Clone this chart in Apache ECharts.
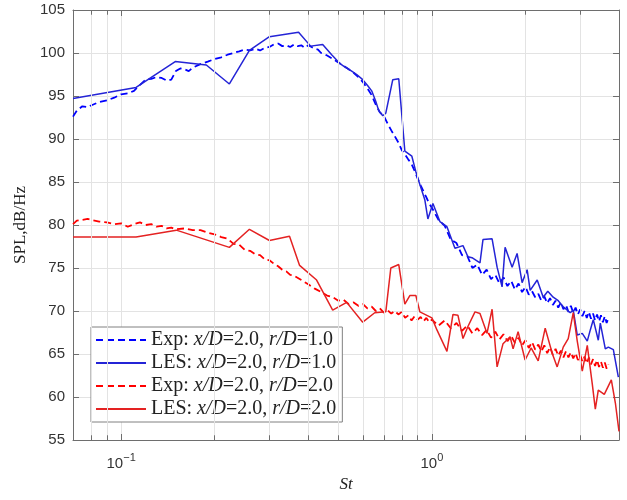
<!DOCTYPE html>
<html>
<head>
<meta charset="utf-8">
<script src="https://cdn.jsdelivr.net/npm/echarts@6/dist/echarts.min.js"></script>
<style>
html,body{margin:0;padding:0;background:#fff;}
#c{width:627px;height:500px;}
</style>
</head>
<body>
<div id="c"></div>
<script>
// ---- data (St, SPL dB/Hz) ----
const seriesNames = [
  'Exp: x/D=2.0, r/D=1.0',
  'LES: x/D=2.0, r/D=1.0',
  'Exp: x/D=2.0, r/D=2.0',
  'LES: x/D=2.0, r/D=2.0'
];

const blueExpSt = [0.070,0.072,0.075,0.078,0.080,0.085,0.090,0.095,0.100,0.105,0.110,0.115,0.120,0.125,0.130,0.135,0.140,0.145,0.150,0.155,0.160,0.165,0.170,0.180,0.190,0.200,0.210,0.220,0.230,0.240,0.250,0.260,0.270,0.280,0.290,0.300,0.310,0.320,0.330,0.340,0.350,0.360,0.370,0.380,0.390,0.400,0.410,0.420,0.430,0.440,0.450,0.460,0.470,0.480,0.490,0.500,0.520,0.540,0.560,0.580,0.600,0.620,0.640,0.660,0.680,0.700,0.720,0.740,0.760,0.780,0.800,0.820,0.840,0.860,0.880,0.900,0.920,0.940,0.960,0.980,1.00,1.05,1.10,1.15,1.20,1.25,1.30,1.35,1.40,1.45,1.50,1.55,1.60,1.65,1.70,1.75,1.80,1.85,1.90,1.95,2.00,2.05,2.10,2.15,2.20,2.25,2.30,2.35,2.40,2.45,2.50,2.55,2.60,2.65,2.70,2.75,2.80,2.85,2.90,2.95,3.00,3.05,3.10,3.15,3.20,3.25,3.30,3.35,3.40,3.45,3.50,3.55,3.60,3.65,3.70];
const blueExpSpl = [92.6,93.3,93.8,93.7,93.9,94.3,94.5,94.8,95.2,95.3,95.6,96.3,96.9,97.0,97.2,97.1,96.8,96.9,97.9,98.2,98.1,97.9,98.3,98.7,99.0,99.3,99.5,99.8,100.0,100.2,100.4,100.3,100.5,100.3,100.6,100.7,101.0,101.1,100.8,100.9,100.7,101.0,100.8,100.9,100.6,100.9,100.7,100.5,100.4,100.0,99.9,99.7,99.5,99.3,99.1,98.9,98.5,98.1,97.7,97.2,96.6,95.9,95.1,94.0,93.1,92.7,91.8,91.0,90.3,89.6,88.7,88.2,87.6,87.1,86.3,85.4,84.6,83.9,83.2,82.5,82.0,80.6,79.9,78.3,77.9,76.5,76.4,75.0,75.4,74.2,74.8,73.7,74.2,73.2,73.9,72.9,73.5,72.5,73.2,72.2,72.8,71.9,72.3,71.6,72.0,71.2,71.7,70.9,71.5,70.7,71.2,70.4,71.0,70.2,70.7,69.9,70.6,69.8,70.4,69.6,70.2,69.4,70.0,69.2,69.9,69.1,69.7,68.9,69.6,68.8,69.5,68.7,69.4,68.6,69.2];

const blueLesSt = [0.0700,0.1117,0.1493,0.1880,0.2230,0.2587,0.3001,0.3724,0.4071,0.4452,0.4758,0.5049,0.5239,0.5518,0.5728,0.5990,0.6217,0.6401,0.6595,0.6745,0.6949,0.7106,0.7483,0.7823,0.8183,0.8619,0.8879,0.9147,0.9493,0.9707,1.0075,1.061,1.118,1.186,1.259,1.306,1.346,1.428,1.460,1.562,1.621,1.682,1.720,1.812,1.880,1.951,2.025,2.071,2.182,2.281,2.360,2.456,2.550,2.646,2.787,2.850,2.936,3.047,3.162,3.234,3.306,3.431,3.483,3.614,3.696,3.836,3.981];
const blueLesSpl = [94.7,96.0,99.0,98.6,96.4,100.3,101.9,102.4,100.8,101.0,99.8,98.8,98.4,97.9,97.5,96.9,96.2,95.6,94.4,93.3,92.7,93.0,96.9,97.0,88.6,88.0,86.2,84.7,82.9,80.7,82.5,80.4,79.8,77.3,77.6,76.3,76.2,75.6,78.3,78.4,75.1,72.8,77.4,75.1,76.7,73.3,74.8,72.4,73.6,71.6,72.3,71.6,71.2,70.5,69.8,70.1,67.2,67.4,66.5,67.8,69.0,66.6,68.6,65.6,65.8,65.5,62.3];

const redExpSt = [0.070,0.072,0.075,0.078,0.080,0.085,0.090,0.095,0.100,0.105,0.110,0.115,0.120,0.125,0.130,0.135,0.140,0.145,0.150,0.160,0.170,0.180,0.190,0.200,0.210,0.220,0.230,0.240,0.250,0.260,0.270,0.280,0.290,0.300,0.310,0.320,0.330,0.340,0.350,0.360,0.380,0.400,0.420,0.440,0.460,0.480,0.500,0.520,0.540,0.560,0.580,0.600,0.620,0.640,0.660,0.680,0.700,0.720,0.740,0.760,0.780,0.800,0.820,0.840,0.860,0.880,0.900,0.920,0.940,0.960,0.980,1.00,1.05,1.10,1.15,1.20,1.25,1.30,1.35,1.40,1.45,1.50,1.55,1.60,1.65,1.70,1.75,1.80,1.85,1.90,1.95,2.00,2.05,2.10,2.15,2.20,2.25,2.30,2.35,2.40,2.45,2.50,2.55,2.60,2.65,2.70,2.75,2.80,2.85,2.90,2.95,3.00,3.05,3.10,3.15,3.20,3.25,3.30,3.35,3.40,3.45,3.50,3.55,3.60,3.65,3.70];
const redExpSpl = [80.1,80.5,80.6,80.7,80.6,80.4,80.3,80.1,80.2,79.8,80.1,80.3,80.0,80.1,79.8,79.9,79.6,79.7,79.5,79.6,79.4,79.4,79.1,78.9,78.6,78.4,77.8,77.7,77.1,77.0,76.6,76.5,76.0,75.9,75.5,75.2,74.8,74.6,74.2,74.1,73.6,73.1,72.6,72.2,71.8,71.6,71.2,71.3,70.8,71.0,70.6,70.8,70.3,70.5,70.0,70.3,69.8,70.1,69.7,70.0,69.6,69.9,69.2,69.5,68.9,69.4,69.0,69.3,68.8,69.2,68.7,69.0,68.3,68.9,68.0,68.6,67.7,68.3,67.4,68.0,67.2,67.8,66.9,67.6,66.7,67.3,66.5,67.1,66.3,66.9,66.0,66.6,65.7,66.4,65.5,66.1,65.3,66.0,65.1,65.8,64.9,65.6,64.8,65.4,64.6,65.3,64.6,65.2,64.5,65.1,64.3,64.9,64.1,64.7,63.9,64.6,63.8,64.4,63.6,64.3,63.5,64.1,63.4,64.0,63.3,63.8];

const redLesSt = [0.0700,0.1117,0.1505,0.2230,0.2587,0.3001,0.3482,0.3752,0.4256,0.4794,0.5318,0.5990,0.6547,0.7106,0.7375,0.7823,0.8183,0.8492,0.8879,0.9147,1.000,1.038,1.118,1.169,1.213,1.259,1.306,1.376,1.428,1.504,1.562,1.621,1.694,1.785,1.825,1.894,1.995,2.086,2.198,2.315,2.438,2.530,2.646,2.746,2.850,2.936,3.047,3.162,3.282,3.356,3.431,3.587,3.779,3.894,4.000];
const redLesSpl = [78.6,78.6,79.4,77.4,79.5,78.2,78.7,75.3,73.6,70.1,71.0,68.7,69.8,69.9,75.0,75.4,70.8,71.8,71.8,69.9,69.2,67.8,65.3,69.6,69.5,66.8,68.2,69.9,69.7,67.4,70.2,63.5,66.2,67.0,65.6,67.6,64.3,65.7,64.2,68.0,65.1,63.5,65.8,66.8,69.8,66.5,63.0,66.0,61.5,58.6,60.8,60.3,62.0,59.3,56.0];

// axis tick values
const yTicks = [55, 60, 65, 70, 75, 80, 85, 90, 95, 100, 105];
const xMinorTicks = [0.08, 0.09, 0.2, 0.3, 0.4, 0.5, 0.6, 0.7, 0.8, 0.9, 2, 3];

function zip(a, b) { return a.map((v, i) => [v, b[i]]); }

const BLUE_EXP = '#0000ff';
const BLUE_LES = '#2424d6';
const RED_EXP = '#ff0000';
const RED_LES = '#e42222';
const gridColor = '#e3e3e3';
const axisColor = '#6e6e6e';

const gridLineData = xMinorTicks.map(v => ({ xAxis: v }));
const tickData = [];
xMinorTicks.forEach(v => {
  tickData.push([{ coord: [v, 55] }, { coord: [v, 55.55] }]);
  tickData.push([{ coord: [v, 105] }, { coord: [v, 104.45] }]);
});

const chart = echarts.init(document.getElementById('c'), null, { renderer: 'canvas' });

function legendFmt(name) {
  const m = name.match(/^(\w+): x\/D=([\d.]+), r\/D=([\d.]+)$/);
  return m[1] + ': {i|x/D}=' + m[2] + ', {i|r/D}=' + m[3];
}

function xLabel(v) {
  const e = Math.log10(v);
  if (Math.abs(e + 1) < 0.01) return '{b|10}{s|\u22121}';
  if (Math.abs(e) < 0.01) return '{b|10}{s|0}';
  return '';
}

const labelRich = {
  b: { fontFamily: 'Liberation Sans, Arial, sans-serif', fontSize: 15, color: '#333' },
  s: { fontFamily: 'Liberation Sans, Arial, sans-serif', fontSize: 11, color: '#333', padding: [0, 0, 13, 0] }
};

const option = {
  backgroundColor: '#fff',
  animation: false,
  grid: { left: 73, top: 10, right: 8, bottom: 60, containLabel: false },
  xAxis: [
    {
      type: 'log', logBase: 10, min: 0.07, max: 4, position: 'bottom',
      name: 'St', nameLocation: 'middle', nameGap: 36,
      nameTextStyle: { fontFamily: 'Liberation Serif, Times New Roman, serif', fontStyle: 'italic', fontSize: 17, color: '#222' },
      axisLine: { show: true, lineStyle: { color: axisColor, width: 1 } },
      axisTick: { show: true, inside: true, length: 6, lineStyle: { color: axisColor } },
      axisLabel: { show: true, margin: 12, formatter: xLabel, rich: labelRich, showMinLabel: false, showMaxLabel: false },
      splitLine: { show: true, lineStyle: { color: gridColor, width: 1 } },
      minorTick: { show: false }
    },
    {
      type: 'log', logBase: 10, min: 0.07, max: 4, position: 'top',
      axisLine: { show: true, lineStyle: { color: axisColor, width: 1 } },
      axisTick: { show: true, inside: true, length: 6, lineStyle: { color: axisColor } },
      axisLabel: { show: false },
      splitLine: { show: false }
    }
  ],
  yAxis: [
    {
      type: 'value', min: 55, max: 105, interval: 5, position: 'left',
      name: 'SPL,dB/Hz', nameLocation: 'middle', nameGap: 42, nameRotate: 90,
      nameTextStyle: { fontFamily: 'Liberation Serif, Times New Roman, serif', fontSize: 17, color: '#222' },
      axisLine: { show: true, lineStyle: { color: axisColor, width: 1 } },
      axisTick: { show: true, inside: true, length: 6, lineStyle: { color: axisColor } },
      axisLabel: { margin: 8, fontFamily: 'Liberation Sans, Arial, sans-serif', fontSize: 15, color: '#333',
        formatter: v => (yTicks.indexOf(v) >= 0 ? String(v) : '') },
      splitLine: { show: true, lineStyle: { color: gridColor, width: 1 } }
    },
    {
      type: 'value', min: 55, max: 105, interval: 5, position: 'right',
      axisLine: { show: true, lineStyle: { color: axisColor, width: 1 } },
      axisTick: { show: true, inside: true, length: 6, lineStyle: { color: axisColor } },
      axisLabel: { show: false },
      splitLine: { show: false }
    }
  ],
  legend: {
    orient: 'vertical', left: 91, top: 327,
    data: seriesNames,
    itemWidth: 50, itemHeight: 14, itemGap: 3,
    padding: [3, 6, 3, 4],
    backgroundColor: '#fff', borderColor: '#808080', borderWidth: 1, borderRadius: 0,
    itemStyle: { opacity: 0 },
    formatter: legendFmt,
    textStyle: {
      fontFamily: 'Liberation Serif, Times New Roman, serif', fontSize: 20, color: '#222', lineHeight: 20,
      rich: { i: { fontFamily: 'Liberation Serif, Times New Roman, serif', fontSize: 20, fontStyle: 'italic', color: '#222', lineHeight: 20 } }
    }
  },
  series: [
    {
      name: 'grid', type: 'line', data: [], z: 1, silent: true,
      markLine: {
        silent: true, symbol: 'none', animation: false, label: { show: false },
        lineStyle: { color: gridColor, width: 1, type: 'solid' },
        data: gridLineData
      }
    },
    {
      name: 'ticks', type: 'line', data: [], z: 1, silent: true,
      markLine: {
        silent: true, symbol: 'none', animation: false, label: { show: false },
        lineStyle: { color: axisColor, width: 1, type: 'solid' },
        data: tickData
      }
    },
    {
      name: seriesNames[0], type: 'line', data: zip(blueExpSt, blueExpSpl), z: 3,
      symbol: 'none', color: BLUE_EXP, lineStyle: { color: BLUE_EXP, width: 1.8, type: [7, 4] }
    },
    {
      name: seriesNames[1], type: 'line', data: zip(blueLesSt, blueLesSpl), z: 4,
      symbol: 'none', color: BLUE_LES, lineStyle: { color: BLUE_LES, width: 1.5, type: 'solid' }
    },
    {
      name: seriesNames[2], type: 'line', data: zip(redExpSt, redExpSpl), z: 3,
      symbol: 'none', color: RED_EXP, lineStyle: { color: RED_EXP, width: 1.8, type: [7, 4] }
    },
    {
      name: seriesNames[3], type: 'line', data: zip(redLesSt, redLesSpl), z: 4,
      symbol: 'none', color: RED_LES, lineStyle: { color: RED_LES, width: 1.5, type: 'solid' }
    }
  ]
};
chart.setOption(option);
</script>
</body>
</html>
